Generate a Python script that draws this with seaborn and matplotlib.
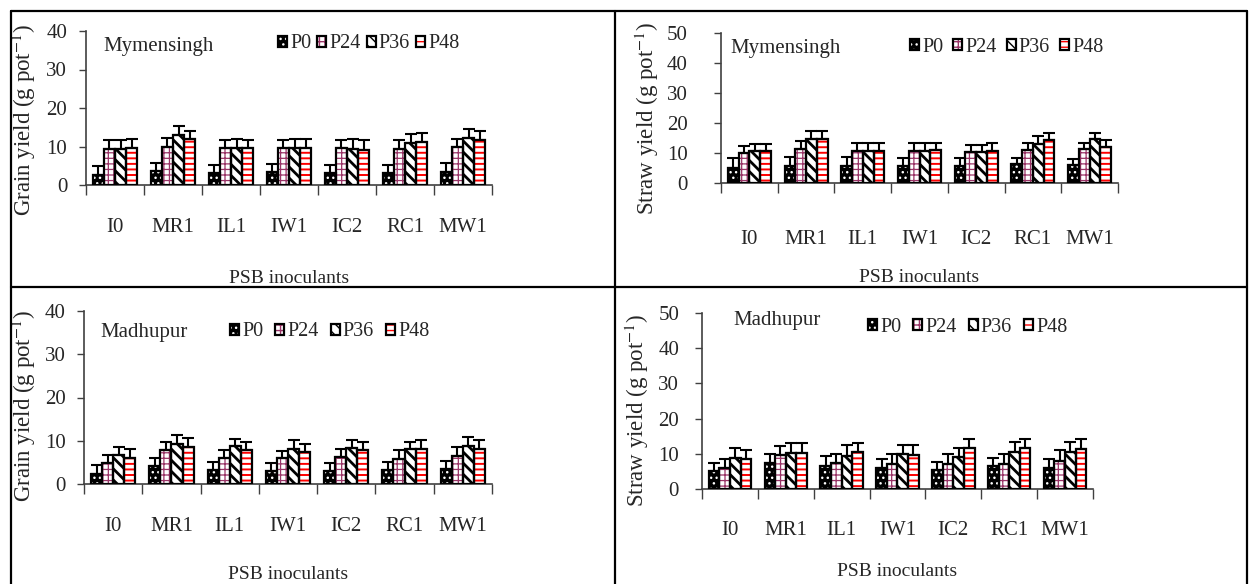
import numpy as np
import pandas as pd
import matplotlib
matplotlib.use("Agg")
import matplotlib.pyplot as plt
from matplotlib.patches import Patch, Rectangle
from matplotlib.lines import Line2D
from matplotlib.legend_handler import HandlerTuple
from matplotlib.transforms import Bbox, TransformedBbox
import seaborn as sns

# ---------------------------------------------------------------------------
# Data
# ---------------------------------------------------------------------------
INOCULANTS = ["I0", "MR1", "IL1", "IW1", "IC2", "RC1", "MW1"]
LEVELS = ["P0", "P24", "P36", "P48"]

grain_mym = {
    "P0":  [2.7, 3.6, 3.0, 3.4, 3.0, 3.0, 3.4],
    "P24": [9.3, 10.0, 9.5, 9.5, 9.5, 9.3, 10.0],
    "P36": [9.3, 13.0, 9.5, 9.6, 9.4, 10.9, 12.2],
    "P48": [9.7, 11.9, 9.5, 9.6, 9.1, 11.1, 11.6],
}
grain_mym_err = {
    "P0":  [2.3, 2.0, 2.3, 2.0, 2.3, 2.2, 2.2],
    "P24": [2.3, 2.3, 2.1, 2.1, 2.1, 2.3, 1.9],
    "P36": [2.3, 2.4, 2.4, 2.3, 2.5, 2.4, 2.3],
    "P48": [2.2, 2.0, 2.1, 2.3, 2.5, 2.4, 2.3],
}

straw_mym = {
    "P0":  [5.0, 5.8, 5.8, 5.8, 5.8, 6.2, 6.0],
    "P24": [10.0, 11.5, 10.6, 10.6, 10.4, 11.0, 11.2],
    "P36": [10.6, 14.7, 10.6, 10.6, 10.4, 13.0, 14.6],
    "P48": [10.6, 14.7, 10.6, 10.9, 10.6, 14.3, 12.1],
}
straw_mym_err = {
    "P0":  [3.5, 3.0, 2.8, 2.6, 2.6, 2.2, 1.9],
    "P24": [2.2, 2.4, 2.7, 2.7, 2.3, 2.3, 2.2],
    "P36": [2.4, 2.5, 2.7, 2.7, 2.4, 2.6, 2.2],
    "P48": [2.4, 2.5, 2.7, 2.6, 2.6, 2.5, 2.2],
}

grain_mad = {
    "P0":  [2.4, 4.1, 3.2, 2.9, 2.9, 3.2, 3.4],
    "P24": [4.8, 7.9, 6.0, 6.0, 6.3, 5.8, 6.5],
    "P36": [6.6, 9.3, 8.7, 8.1, 8.3, 8.0, 8.8],
    "P48": [6.0, 8.5, 7.9, 7.5, 7.8, 8.0, 8.2],
}
grain_mad_err = {
    "P0":  [2.1, 1.9, 2.0, 1.9, 1.9, 2.0, 2.0],
    "P24": [2.0, 1.7, 1.9, 1.7, 1.8, 2.0, 2.0],
    "P36": [1.9, 2.1, 1.8, 2.1, 1.9, 1.8, 2.0],
    "P48": [2.1, 2.1, 1.9, 1.8, 1.8, 2.2, 2.0],
}

straw_mad = {
    "P0":  [5.2, 7.5, 6.6, 5.9, 5.5, 6.4, 5.9],
    "P24": [5.9, 9.7, 7.3, 7.2, 7.2, 7.2, 8.0],
    "P36": [8.8, 10.2, 9.4, 10.0, 9.1, 10.4, 10.4],
    "P48": [8.6, 10.2, 10.4, 9.7, 11.6, 11.6, 11.3],
}
straw_mad_err = {
    "P0":  [2.3, 2.5, 2.9, 2.6, 2.3, 2.4, 2.5],
    "P24": [2.6, 2.4, 2.7, 2.8, 2.7, 2.8, 3.1],
    "P36": [2.8, 2.8, 3.0, 2.6, 2.5, 2.9, 3.0],
    "P48": [2.5, 2.8, 2.6, 2.7, 2.6, 2.6, 2.8],
}

# ---------------------------------------------------------------------------
# Style
# ---------------------------------------------------------------------------
W, H = 1258, 584
SERIF = "Liberation Serif"

STYLE = {
    "P0":  dict(face="black", hatch="...",    hcolor="white",   hlw=1.0),
    "P24": dict(face="white", hatch="+++",    hcolor="#993366", hlw=0.9),
    "P36": dict(face="white", hatch="\\\\\\", hcolor="black",   hlw=2.0),
    "P48": dict(face="white", hatch="---",    hcolor="#ff0000", hlw=1.4),
}

sns.set_style("ticks")
plt.rcParams["font.family"] = [SERIF, "DejaVu Serif"]
plt.rcParams["mathtext.fontset"] = "stix"


def px_axes(fig, left, top, right, bottom):
    return fig.add_axes([left / W, 1 - bottom / H, (right - left) / W, (bottom - top) / H])


def hatched(patch, st):
    patch.set_hatch(st["hatch"])
    patch.set_edgecolor(st["hcolor"])
    patch.set_linewidth(0)
    if hasattr(patch, "set_hatch_linewidth"):
        patch.set_hatch_linewidth(st["hlw"])
    return patch


def draw_panel(fig, box, means, errs, ymax, ylabel, site, site_xy,
               leg_xy, colsp, ypad, xpad, ylab_xy, xlab_y, clip_top=None):
    ax = px_axes(fig, *box)
    df = pd.DataFrame(
        [(ino, lvl, means[lvl][i]) for lvl in LEVELS for i, ino in enumerate(INOCULANTS)],
        columns=["inoculant", "level", "value"],
    )
    sns.barplot(data=df, x="inoculant", y="value", hue="level",
                order=INOCULANTS, hue_order=LEVELS, width=0.76,
                errorbar=None, legend=False, ax=ax,
                palette={k: v["face"] for k, v in STYLE.items()})

    for cont, lvl in zip(ax.containers, LEVELS):
        st = STYLE[lvl]
        xs, hs = [], []
        for bar in cont:
            hatched(bar, st)
            ax.add_patch(Rectangle((bar.get_x(), 0), bar.get_width(), bar.get_height(),
                                   fill=False, edgecolor="black", linewidth=1.6, zorder=3))
            xs.append(bar.get_x() + bar.get_width() / 2)
            hs.append(bar.get_height())
        ax.errorbar(xs, hs, yerr=[np.zeros(len(hs)), errs[lvl]], fmt="none",
                    ecolor="black", elinewidth=1.5, capsize=4, capthick=1.5, zorder=4)

    ax.set_xlim(-0.5, 6.5)
    ax.set_ylim(0, ymax)
    ax.set_yticks(range(0, ymax + 1, 10))
    ax.set_xticks(range(len(INOCULANTS)))
    ax.set_xticklabels(INOCULANTS)
    ax.set_xticks(np.arange(-0.5, 7, 1), minor=True)
    ax.tick_params(axis="x", which="major", length=0, pad=xpad, labelsize=15)
    ax.tick_params(axis="x", which="minor", length=7, width=1, color="#404040")
    ax.tick_params(axis="y", length=5, width=1, color="#404040", pad=ypad, labelsize=15)
    sns.despine(ax=ax)
    for s in ("left", "bottom"):
        ax.spines[s].set_color("#404040")
        ax.spines[s].set_linewidth(1.2)

    ax.set_ylabel(ylabel, fontsize=16.5)
    ax.yaxis.set_label_coords(*ylab_xy)
    ax.set_xlabel("PSB inoculants", fontsize=14)
    ax.xaxis.label.set_va("center")
    ax.xaxis.set_label_coords(0.5, xlab_y)
    if clip_top is not None:
        cb = TransformedBbox(Bbox([[0, 1 - clip_top / H], [1, 1]]), fig.transFigure)
        ax.xaxis.label.set_clip_box(cb)
        ax.xaxis.label.set_clip_on(True)

    fig.text(site_xy[0] / W, 1 - site_xy[1] / H, site, fontsize=15, va="center", ha="left")

    handles = []
    for lvl in LEVELS:
        st = STYLE[lvl]
        handles.append((hatched(Patch(facecolor=st["face"]), st),
                        Patch(fill=False, edgecolor="black", linewidth=1.6)))
    ax.legend(handles, LEVELS, handler_map={tuple: HandlerTuple(ndivide=1)},
              ncol=4, loc="center left", bbox_to_anchor=(leg_xy[0] / W, 1 - leg_xy[1] / H),
              bbox_transform=fig.transFigure, frameon=False, fontsize=14.5,
              handlelength=0.45, handleheight=0.45, handletextpad=0.15,
              columnspacing=colsp, borderpad=0, borderaxespad=0)
    return ax


fig = plt.figure(figsize=(W / 100, H / 100), dpi=100)

draw_panel(fig, (86, 31, 492, 185), grain_mym, grain_mym_err, 40,
           "Grain yield (g pot$^{-1}$)", "Mymensingh", (103, 47),
           (278, 44), 0.3, 8.5, 24, (-0.118, 0.42), -0.61, clip_top=287)
draw_panel(fig, (721, 33, 1118, 183), straw_mym, straw_mym_err, 50,
           "Straw yield (g pot$^{-1}$)", "Mymensingh", (730, 48),
           (910, 47), 0.5, 19, 34, (-0.150, 0.43), -0.627, clip_top=287)
draw_panel(fig, (84, 311, 492, 484), grain_mad, grain_mad_err, 40,
           "Grain yield (g pot$^{-1}$)", "Madhupur", (100, 332),
           (230, 332), 0.6, 8, 24, (-0.112, 0.45), -0.526)
draw_panel(fig, (702, 313, 1093, 489), straw_mad, straw_mad_err, 50,
           "Straw yield (g pot$^{-1}$)", "Madhupur", (733, 320),
           (868, 327), 0.6, 11.5, 23, (-0.130, 0.45), -0.466)

# panel frame lines
for (x1, y1, x2, y2) in [(11, 11, 1247, 11), (11, 287, 1247, 287),
                         (11, 11, 11, 584), (615, 11, 615, 584), (1247, 11, 1247, 584)]:
    fig.add_artist(Line2D([x1 / W, x2 / W], [1 - y1 / H, 1 - y2 / H],
                          transform=fig.transFigure, color="black", linewidth=1.6))

fig.savefig("out.png", dpi=100)
